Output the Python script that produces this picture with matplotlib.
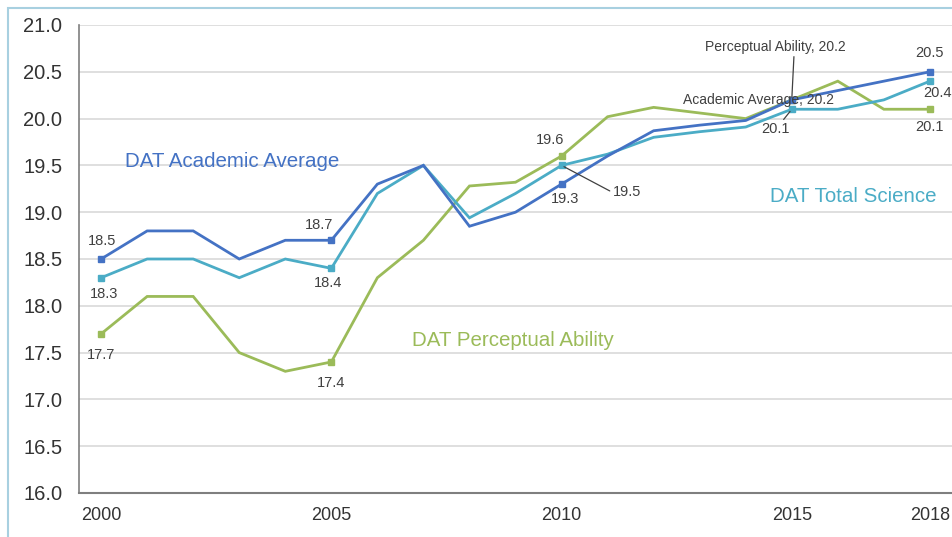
import matplotlib
matplotlib.use("Agg")
import matplotlib.pyplot as plt
from matplotlib.patches import Rectangle

plt.rcParams['font.family'] = ['Liberation Sans', 'DejaVu Sans']

years = list(range(2000, 2019))
academic = [18.5, 18.8, 18.8, 18.5, 18.7, 18.7, 19.3, 19.5, 18.85, 19.0, 19.3, 19.6, 19.87, 19.93, 19.98, 20.2, 20.3, 20.4, 20.5]
science = [18.3, 18.5, 18.5, 18.3, 18.5, 18.4, 19.2, 19.5, 18.94, 19.2, 19.5, 19.62, 19.8, 19.86, 19.91, 20.1, 20.1, 20.2, 20.4]
perceptual = [17.7, 18.1, 18.1, 17.5, 17.3, 17.4, 18.3, 18.7, 19.28, 19.32, 19.6, 20.02, 20.12, 20.06, 20.0, 20.2, 20.4, 20.1, 20.1]
marker_years = [2000, 2005, 2010, 2015, 2018]
xtick_labels = ['2000', '2005', '2010', '2015', '2018']

C_ACAD = '#4472C4'
C_SCI = '#4BACC6'
C_PERC = '#9BBB59'
TXT = '#404040'

fig = plt.figure(figsize=(9.52, 5.37), dpi=100)
ax = fig.add_axes([79/952, 1-493/537, 1-79/952, (493-25)/537])

# outer frame (right and bottom edges run off the picture)
top = 1 - 8/537
fig.patches.append(Rectangle((8/952, -0.2), 1.2, top + 0.2, transform=fig.transFigure,
                             fill=False, edgecolor='#A8D0E0', linewidth=1.5, zorder=0))

for vals, col in [(perceptual, C_PERC), (science, C_SCI), (academic, C_ACAD)]:
    ax.plot(years, vals, color=col, linewidth=2.0, zorder=3, solid_joinstyle='miter')
    my = [vals[years.index(y)] for y in marker_years]
    ax.plot(marker_years, my, linestyle='none', marker='s', markersize=4.5, color=col, zorder=4)

ax.set_xlim(1999.52, 2018.48)
ax.set_ylim(16.0, 21.0)
ax.set_yticks([16.0 + 0.5*i for i in range(11)])
ax.set_yticklabels([f"{16.0 + 0.5*i:.1f}" for i in range(11)], fontsize=14.5, color='#333333')
ax.set_xticks(marker_years)
ax.set_xticklabels(xtick_labels, fontsize=13, color='#333333')
ax.tick_params(axis='both', length=0)
ax.tick_params(axis='y', pad=12)
ax.tick_params(axis='x', pad=10)
ax.grid(axis='y', color='#D9D9D9', linewidth=1.2)
ax.set_axisbelow(True)
for s in ['top', 'right']:
    ax.spines[s].set_visible(False)
ax.spines['left'].set_color('#7F7F7F')
ax.spines['bottom'].set_color('#7F7F7F')
ax.spines['left'].set_linewidth(1.2)
ax.spines['bottom'].set_linewidth(1.5)

def lab(year, vals, text, dx, dy, ha='center', line=False, fs=10.5, relpos=(0.5, 0.5)):
    v = vals[years.index(year)]
    kw = {}
    if line:
        kw['arrowprops'] = dict(arrowstyle='-', color='#404040', lw=0.9, shrinkA=0, shrinkB=2,
                                relpos=relpos)
    ax.annotate(text, (year, v), xytext=(dx, dy), textcoords='offset pixels',
                ha=ha, va='center', fontsize=fs, color=TXT, zorder=6, **kw)

# Academic labels
lab(2000, academic, '18.5', 1, 18)
lab(2005, academic, '18.7', -12, 15)
lab(2010, academic, '19.3', 4, -15)
lab(2015, academic, 'Academic Average, 20.2', -33, 0, fs=10)
lab(2018, academic, '20.5', 0, 19)
# Total science labels
lab(2000, science, '18.3', 3, -16)
lab(2005, science, '18.4', -3, -15)
lab(2010, science, '19.5', 51, -27, ha='left', line=True, relpos=(0, 0.5))
lab(2015, science, '20.1', -16, -20, line=True, relpos=(0.7, 1.0))
lab(2018, science, '20.4', -7, -12, ha='left')
# Perceptual labels
lab(2000, perceptual, '17.7', 0, -21)
lab(2005, perceptual, '17.4', 0, -21)
lab(2010, perceptual, '19.6', -11, 16)
lab(2015, perceptual, 'Perceptual Ability, 20.2', -16, 53, line=True, fs=10, relpos=(0.63, 0.0))
lab(2018, perceptual, '20.1', 0, -18)

# series names
ax.text(2000.52, 19.54, 'DAT Academic Average', color=C_ACAD, fontsize=14.8, va='center', ha='left')
ax.text(2014.52, 19.17, 'DAT Total Science', color=C_SCI, fontsize=14.8, va='center', ha='left')
ax.text(2006.75, 17.63, 'DAT Perceptual Ability', color=C_PERC, fontsize=14.8, va='center', ha='left')

fig.savefig('out.png', dpi=100)
